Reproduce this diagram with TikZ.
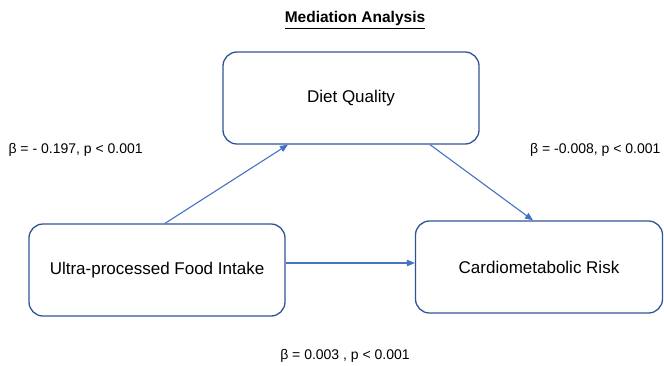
\documentclass[tikz,border=0pt]{standalone}
\usepackage{amsmath, amssymb, tikz}
\usepackage{fontspec}
\setmainfont{Liberation Sans}
\usetikzlibrary{arrows.meta}
\definecolor{boxblue}{HTML}{2F5597}
\definecolor{arrblue}{HTML}{4472C4}
\tikzset{
  varbox/.style={draw=boxblue, line width=1.3pt, rounded corners=14pt, minimum height=92pt, font=\fontsize{17}{20}\selectfont},
  path/.style={draw=arrblue, line width=1.1pt, -{Triangle[length=8pt,width=6.5pt]}},
  coef/.style={font=\fontsize{14}{16}\selectfont}
}
\begin{document}
\begin{tikzpicture}[x=1pt,y=-1pt]
        \useasboundingbox (0,0) rectangle (664,365);
        \node[font=\fontsize{15.5}{18}\selectfont\bfseries] (title) at (355,20) {\underline{Mediation Analysis}};
        \node[varbox, minimum width=256pt] (diet) at (351,98) {Diet Quality};
        \node[varbox, minimum width=256pt] (upf) at (157,270) {Ultra-processed Food Intake};
        \node[varbox, minimum width=247pt] (risk) at (539,267) {Cardiometabolic Risk};
        \draw[path] ([xshift=8pt]upf.north) -- ([xshift=-63pt]diet.south);
        \draw[path] ([xshift=79pt]diet.south) -- ([xshift=-6pt]risk.north);
        \draw[path] (upf.east |- 0,263) -- (risk.west |- 0,263);
        \node[coef, right] (apath) at (5,150) {β = - 0.197, p < 0.001};
        \node[coef, left] (bpath) at (664,150) {β = -0.008, p < 0.001};
        \node[coef] (cpath) at (345,356) {β = 0.003 , p < 0.001};
    \end{tikzpicture}
\end{document}
